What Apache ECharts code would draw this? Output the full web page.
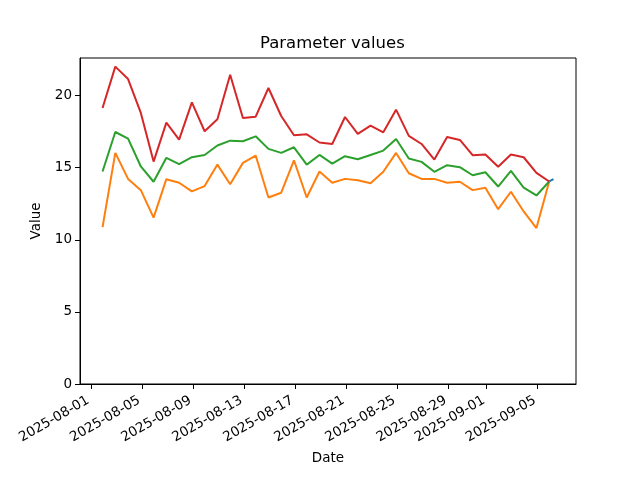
<!DOCTYPE html>
<html>
<head>
<meta charset="utf-8">
<script src="https://cdn.jsdelivr.net/npm/echarts@6/dist/echarts.min.js"></script>
<style>html,body{margin:0;padding:0;background:#fff}#c{width:640px;height:480px}</style>
</head>
<body>
<div id="c"></div>
<script>
// Daily sample times (UTC)
const dates = [
 '2025-08-01T22:00','2025-08-02T22:00','2025-08-03T22:00','2025-08-04T22:00','2025-08-05T22:00',
 '2025-08-06T22:00','2025-08-07T22:00','2025-08-08T22:00','2025-08-09T22:00','2025-08-10T22:00',
 '2025-08-11T22:00','2025-08-12T22:00','2025-08-13T22:00','2025-08-14T22:00','2025-08-15T22:00',
 '2025-08-16T22:00','2025-08-17T22:00','2025-08-18T22:00','2025-08-19T22:00','2025-08-20T22:00',
 '2025-08-21T22:00','2025-08-22T22:00','2025-08-23T22:00','2025-08-24T22:00','2025-08-25T22:00',
 '2025-08-26T22:00','2025-08-27T22:00','2025-08-28T22:00','2025-08-29T22:00','2025-08-30T22:00',
 '2025-08-31T22:00','2025-09-01T22:00','2025-09-02T22:00','2025-09-03T22:00','2025-09-04T22:00',
 '2025-09-05T22:00'
];
const blueDates = ['2025-09-05T22:00','2025-09-06T06:00'];
const blueValues = [14.04, 14.2];
const orangeValues = [10.88,16.02,14.22,13.44,11.53,14.2,13.95,13.35,13.72,15.21,13.85,15.33,
 15.84,12.93,13.26,15.51,12.93,14.73,13.95,14.22,14.13,13.92,14.71,16.02,14.61,
 14.22,14.22,13.95,14.02,13.44,13.6,12.12,13.33,11.96,10.81,14.04];
const greenValues = [14.73,17.47,17.01,15.08,14.02,15.68,15.24,15.72,15.88,16.53,16.87,16.83,
 17.17,16.3,16.02,16.41,15.21,15.88,15.28,15.79,15.58,15.88,16.18,16.99,15.63,
 15.4,14.71,15.17,15.03,14.47,14.68,13.69,14.78,13.62,13.07,14.04];
const redValues = [19.13,22.0,21.14,18.79,15.42,18.12,16.94,19.52,17.52,18.35,21.44,18.44,
 18.53,20.52,18.58,17.24,17.31,16.74,16.64,18.51,17.34,17.91,17.45,19.02,17.2,
 16.64,15.56,17.13,16.92,15.86,15.91,15.06,15.91,15.72,14.64,14.04];
const xTickDates = ['2025-08-01','2025-08-05','2025-08-09','2025-08-13','2025-08-17',
 '2025-08-21','2025-08-25','2025-08-29','2025-09-01','2025-09-05'];
const yTicks = [0,5,10,15,20];

const t = s => Date.parse(s.length === 10 ? s + 'T00:00:00Z' : s + ':00Z');
const pairs = (ds, vs) => ds.map((d, i) => [t(d), vs[i]]);
const allT = dates.map(t).concat(blueDates.map(t));
const tMin = Math.min(...allT), tMax = Math.max(...allT);
const pad = (tMax - tMin) * 0.05;
const fmt = v => { const d = new Date(v); const p = n => String(n).padStart(2,'0');
  return d.getUTCFullYear() + '-' + p(d.getUTCMonth()+1) + '-' + p(d.getUTCDate()); };
const xTicks = xTickDates.map(t);
const font = 'DejaVu Sans';

const chart = echarts.init(document.getElementById('c'), null, {renderer:'canvas'});
chart.setOption({
  animation: false,
  backgroundColor: '#fff',
  title: { text: 'Parameter values', left: 255, top: 30,
    textStyle: { fontFamily: font, fontSize: 16.5, fontWeight: 'normal', color: '#000' } },
  grid: { left: 80, right: 64, top: 58, bottom: 96, show: true, borderColor: '#000', borderWidth: 1, backgroundColor: 'transparent' },
  xAxis: {
    type: 'value', min: tMin - pad, max: tMax + pad,
    name: 'Date', nameLocation: 'middle', nameGap: 67,
    nameTextStyle: { fontFamily: font, fontSize: 13.5, color: '#000' },
    axisLine: { show: true, lineStyle: { color: '#000', width: 1 } },
    axisTick: { show: true, length: 5, lineStyle: { color: '#000' }, customValues: xTicks },
    axisLabel: { customValues: xTicks, formatter: fmt, rotate: 30, margin: 14, padding: [0, 3, 0, 0],
      fontFamily: font, fontSize: 13.5, color: '#000' },
    splitLine: { show: false }
  },
  yAxis: {
    type: 'value', min: 0, max: 22.6,
    name: 'Value', nameLocation: 'middle', nameGap: 34,
    nameTextStyle: { fontFamily: font, fontSize: 13.5, color: '#000' },
    axisLine: { show: true, lineStyle: { color: '#000', width: 1 } },
    axisTick: { show: true, length: 5, lineStyle: { color: '#000' }, customValues: yTicks },
    axisLabel: { customValues: yTicks, margin: 8, fontFamily: font, fontSize: 13.5, color: '#000' },
    splitLine: { show: false }
  },
  series: [
    { type: 'line', data: pairs(blueDates, blueValues), showSymbol: false, lineStyle: { color: '#1f77b4', width: 2 }, itemStyle:{color:'#1f77b4'} },
    { type: 'line', data: pairs(dates, orangeValues), showSymbol: false, lineStyle: { color: '#ff7f0e', width: 2 }, itemStyle:{color:'#ff7f0e'} },
    { type: 'line', data: pairs(dates, greenValues), showSymbol: false, lineStyle: { color: '#2ca02c', width: 2 }, itemStyle:{color:'#2ca02c'} },
    { type: 'line', data: pairs(dates, redValues), showSymbol: false, lineStyle: { color: '#d62728', width: 2 }, itemStyle:{color:'#d62728'} }
  ]
});
</script>
</body>
</html>
